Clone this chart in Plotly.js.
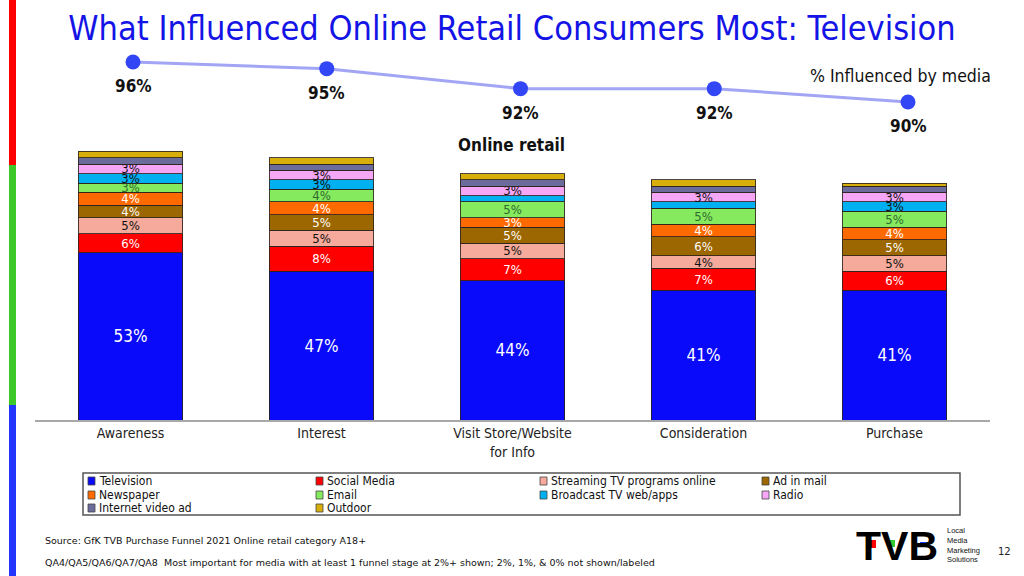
<!DOCTYPE html>
<html>
<head>
<meta charset="utf-8">
<script src="https://cdn.plot.ly/plotly-3.0.1.min.js"></script>
<style>
  html, body { margin: 0; padding: 0; background: #fff; }
  #chart { width: 1024px; height: 576px; }
</style>
</head>
<body>
<div id="chart"></div>
<script>
// ---- data ----
var categories = ['Awareness', 'Interest', 'Visit Store/Website<br>for Info', 'Consideration', 'Purchase'];
var seriesNames = ['Television', 'Social Media', 'Streaming TV programs online', 'Ad in mail', 'Newspaper',
                   'Email', 'Broadcast TV web/apps', 'Radio', 'Internet video ad', 'Outdoor'];
var television   = [53, 47, 44, 41, 41];
var socialMedia  = [6, 8, 7, 7, 6];
var streamingTV  = [5, 5, 5, 4, 5];
var adInMail     = [4, 5, 5, 6, 5];
var newspaper    = [4, 4, 3, 4, 4];
var email        = [3, 4, 5, 5, 5];
var broadcastTV  = [3, 3, 2, 2, 3];
var radio        = [3, 3, 3, 3, 3];
var internetVideo= [2, 2, 2, 2, 2];
var outdoor      = [2, 2, 2, 2, 1];
var influenced   = [96, 95, 92, 92, 90];

var seriesValues = [television, socialMedia, streamingTV, adInMail, newspaper, email, broadcastTV, radio, internetVideo, outdoor];
var seriesColors = ['#0A0AFA', '#FF0000', '#F5AA9C', '#9C6600', '#FF6A00', '#86EA5E', '#00B0F0', '#F5A6F5', '#6C6C9C', '#D8AE0A'];
var labelColors  = ['#FFFFFF', '#FFFFFF', '#111111', '#FFFFFF', '#FFFFFF', '#2E6B2E', '#111111', '#111111', '#FFFFFF', '#111111'];
var labelSizes   = [17, 13, 13, 13, 13, 13, 13, 13, 13, 13];

var FONT = '"DejaVu Sans Condensed", "DejaVu Sans", sans-serif';

// ---- geometry helpers (page pixels -> paper coords) ----
var W = 1024, H = 576;
var mL = 35, mR = 34, mT = 40, mB = 156;
var plotW = W - mL - mR, plotH = H - mT - mB;
function px(x) { return (x - mL) / plotW; }
function py(y) { return (H - mB - y) / plotH; }

var traces = [];
for (var i = 0; i < seriesNames.length; i++) {
  traces.push({
    type: 'bar',
    name: seriesNames[i],
    x: categories,
    y: seriesValues[i],
    text: seriesValues[i].map(function (v) { return v >= 3 ? v + '%' : ''; }),
    textposition: 'inside',
    insidetextanchor: 'middle',
    textangle: 0,
    constraintext: 'none',
    cliponaxis: false,
    textfont: { family: FONT, size: labelSizes[i], color: labelColors[i] },
    marker: { color: seriesColors[i], line: { color: 'rgba(45,35,30,0.85)', width: 1 } },
    hoverinfo: 'skip',
    showlegend: false,
    xaxis: 'x', yaxis: 'y'
  });
}

traces.push({
  type: 'scatter',
  mode: 'lines+markers',
  x: categories,
  y: influenced,
  xaxis: 'x2', yaxis: 'y2',
  line: { color: 'rgba(130,135,240,0.75)', width: 3 },
  marker: { color: '#3346F5', size: 15 },
  showlegend: false,
  hoverinfo: 'skip',
  cliponaxis: false
});

var annotations = [];
for (var k = 0; k < influenced.length; k++) {
  annotations.push({
    xref: 'x2', yref: 'y2', x: categories[k], y: influenced[k],
    text: '<b>' + influenced[k] + '%</b>', showarrow: false, yshift: -24,
    font: { family: FONT, size: 17, color: '#111' }
  });
}
annotations.push({ xref: 'paper', yref: 'paper', x: px(900), y: py(76), text: '% Influenced by media',
  showarrow: false, font: { family: FONT, size: 17.5, color: '#111' }, xanchor: 'center', yanchor: 'middle' });
annotations.push({ xref: 'paper', yref: 'paper', x: px(511), y: py(145), text: '<b>Online retail</b>',
  showarrow: false, font: { family: FONT, size: 17, color: '#111' }, xanchor: 'center', yanchor: 'middle' });
annotations.push({ xref: 'paper', yref: 'paper', x: px(43), y: py(540), xanchor: 'left', yanchor: 'middle',
  text: 'Source: GfK TVB Purchase Funnel 2021 Online retail category A18+',
  showarrow: false, font: { family: '"DejaVu Sans", sans-serif', size: 9.5, color: '#111' } });
annotations.push({ xref: 'paper', yref: 'paper', x: px(43), y: py(562), xanchor: 'left', yanchor: 'middle',
  text: 'QA4/QA5/QA6/QA7/QA8&nbsp;&nbsp;Most important for media with at least 1 funnel stage at 2%+ shown; 2%, 1%, &amp; 0% not shown/labeled',
  showarrow: false, font: { family: '"DejaVu Sans", sans-serif', size: 9.5, color: '#111' } });
annotations.push({ xref: 'paper', yref: 'paper', x: px(1004), y: py(551), xanchor: 'center', yanchor: 'middle',
  text: '12', showarrow: false, font: { family: '"DejaVu Sans", sans-serif', size: 10, color: '#222' } });
// logo
annotations.push({ xref: 'paper', yref: 'paper', x: px(897), y: py(546), xanchor: 'center', yanchor: 'middle',
  text: '<b>TVB</b>', showarrow: false, font: { family: '"Liberation Sans", Arial, sans-serif', size: 41, color: '#000' } });
annotations.push({ xref: 'paper', yref: 'paper', x: px(945), y: py(545), xanchor: 'left', yanchor: 'middle',
  text: 'Local<br>Media<br>Marketing<br>Solutions', align: 'left', showarrow: false,
  font: { family: '"Liberation Sans", Arial, sans-serif', size: 7.5, color: '#111' } });

var shapes = [];
// left color strip
shapes.push({ type: 'rect', xref: 'paper', yref: 'paper', x0: px(9), x1: px(16), y0: py(0), y1: py(165), fillcolor: '#FF0000', line: { width: 0 } });
shapes.push({ type: 'rect', xref: 'paper', yref: 'paper', x0: px(9), x1: px(16), y0: py(165), y1: py(405), fillcolor: '#3CC828', line: { width: 0 } });
shapes.push({ type: 'rect', xref: 'paper', yref: 'paper', x0: px(9), x1: px(16), y0: py(405), y1: py(576), fillcolor: '#2236FF', line: { width: 0 } });
// logo color marks
shapes.push({ type: 'rect', xref: 'paper', yref: 'paper', x0: px(870), x1: px(876), y0: py(540), y1: py(548), fillcolor: '#FF0000', line: { width: 0 } });
shapes.push({ type: 'rect', xref: 'paper', yref: 'paper', x0: px(889), x1: px(895), y0: py(540), y1: py(547), fillcolor: '#33CC33', line: { width: 0 } });
shapes.push({ type: 'rect', xref: 'paper', yref: 'paper', x0: px(920), x1: px(928), y0: py(542), y1: py(547), fillcolor: '#1A3CFF', line: { width: 0 } });

// legend box (manual)
shapes.push({ type: 'rect', xref: 'paper', yref: 'paper', x0: px(83), x1: px(960), y0: py(473), y1: py(515),
  fillcolor: 'rgba(0,0,0,0)', line: { color: '#555', width: 1.5 } });
var legCols = [88, 316, 540, 762];
var legRows = [481, 495, 508];
for (var j = 0; j < seriesNames.length; j++) {
  var c = j % 4, r = Math.floor(j / 4);
  var lx = legCols[c], ly = legRows[r];
  shapes.push({ type: 'rect', xref: 'paper', yref: 'paper', x0: px(lx), x1: px(lx + 7), y0: py(ly - 4), y1: py(ly + 4),
    fillcolor: seriesColors[j], line: { color: '#444', width: 0.8 } });
  annotations.push({ xref: 'paper', yref: 'paper', x: px(lx + 9), y: py(ly), xanchor: 'left', yanchor: 'middle',
    text: seriesNames[j], showarrow: false, font: { family: FONT, size: 12, color: '#111' } });
}

var layout = {
  width: W, height: H,
  margin: { l: mL, r: mR, t: mT, b: mB, pad: 0 },
  paper_bgcolor: '#FFFFFF', plot_bgcolor: 'rgba(0,0,0,0)',
  barmode: 'stack',
  bargap: 0.455,
  showlegend: false,
  title: {
    text: 'What Influenced Online Retail Consumers Most: Television',
    font: { family: FONT, size: 34, color: '#1414E6' },
    x: 0.5, xref: 'container', xanchor: 'center',
    y: 1 - 28 / H, yref: 'container', yanchor: 'middle'
  },
  xaxis: {
    type: 'category', domain: [0, 1], anchor: 'y', range: [-0.5, 4.5],
    showline: true, linecolor: '#A8A8A8', linewidth: 1.5, ticks: '', showgrid: false, zeroline: false,
    tickfont: { family: FONT, size: 14, color: '#222' }, fixedrange: true
  },
  yaxis: {
    domain: [0, 316 / plotH], range: [0, 100], visible: false, showgrid: false, zeroline: false, fixedrange: true
  },
  xaxis2: {
    type: 'category', domain: [0, 1], anchor: 'y2', range: [-0.5058, 4.4232], visible: false, fixedrange: true
  },
  yaxis2: {
    domain: [py(140), 1], range: [84.3, 99.3], visible: false, showgrid: false, zeroline: false, fixedrange: true
  },
  shapes: shapes,
  annotations: annotations
};

Plotly.newPlot('chart', traces, layout, { displayModeBar: false, staticPlot: true });
</script>
</body>
</html>
